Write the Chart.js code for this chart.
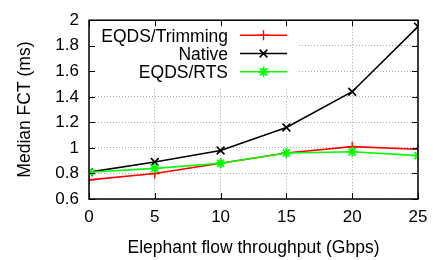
<!DOCTYPE html>
<html><head><meta charset="utf-8">
<script src="https://cdn.jsdelivr.net/npm/chart.js@4/dist/chart.umd.min.js"></script>
<style>html,body{margin:0;padding:0;background:#fff}#wrap{width:440px;height:260px}</style>
</head><body><div id="wrap"><canvas id="c" width="440" height="260"></canvas></div>
<script>
const xValues = [0, 5, 10, 15, 20, 25];
const trimming = [0.75, 0.80, 0.88, 0.96, 1.01, 0.99];
const native = [0.81, 0.89, 0.98, 1.16, 1.44, 1.95];
const rts = [0.81, 0.84, 0.88, 0.96, 0.97, 0.94];
const seriesNames = ['EQDS/Trimming', 'Native', 'EQDS/RTS'];
const xTickValues = [0, 5, 10, 15, 20, 25];
const yTickValues = [0.6, 0.8, 1.0, 1.2, 1.4, 1.6, 1.8, 2.0];
const yTickLabels = ['0.6', '0.8', '1', '1.2', '1.4', '1.6', '1.8', '2'];
const xTitle = 'Elephant flow throughput (Gbps)';
const yTitle = 'Median FCT (ms)';

const FONT = 'Liberation Sans, Arial, Helvetica, sans-serif';
const toPts = v => xValues.map((x, i) => ({x: x, y: v[i]}));

const frame = {
  id: 'frame',
  beforeDatasetsDraw(chart) {
    const {ctx, chartArea: a} = chart;
    ctx.save();
    ctx.fillStyle = '#fff';
    ctx.fillRect(a.left + 1, a.top + 1, 208, 66);
    ctx.restore();
  },
  afterDatasetsDraw(chart) {
    const {ctx, chartArea: a, scales} = chart;
    ctx.save();
    ctx.strokeStyle = '#000';
    ctx.lineWidth = 1.5;
    ctx.strokeRect(a.left, a.top, a.right - a.left, a.bottom - a.top);
    ctx.lineWidth = 1;
    const L = 6;
    ctx.beginPath();
    xTickValues.forEach(v => {
      const px = Math.round(scales.x.getPixelForValue(v)) + 0.5;
      ctx.moveTo(px, a.bottom); ctx.lineTo(px, a.bottom - L);
      ctx.moveTo(px, a.top); ctx.lineTo(px, a.top + L);
    });
    yTickValues.forEach(v => {
      const py = Math.round(scales.y.getPixelForValue(v)) + 0.5;
      ctx.moveTo(a.left, py); ctx.lineTo(a.left + L, py);
      ctx.moveTo(a.right, py); ctx.lineTo(a.right - L, py);
    });
    ctx.stroke();
    // legend
    ctx.font = '17.5px ' + FONT;
    ctx.textAlign = 'right';
    ctx.textBaseline = 'middle';
    chart.data.datasets.forEach((ds, i) => {
      const y = a.top + 15 + i * 18.3;
      const tx = a.left + 139;
      ctx.fillStyle = '#000';
      ctx.fillText(ds.label, tx, y + 1.5);
      const x0 = a.left + 151, x1 = a.left + 198, xm = (x0 + x1) / 2;
      ctx.strokeStyle = ds.borderColor;
      ctx.lineWidth = ds.borderWidth;
      ctx.beginPath(); ctx.moveTo(x0, y); ctx.lineTo(x1, y); ctx.stroke();
      const r = ds.pointRadius;
      ctx.lineWidth = ds.pointBorderWidth;
      ctx.beginPath();
      if (ds.pointStyle === 'cross' || ds.pointStyle === 'star') {
        ctx.moveTo(xm - r, y); ctx.lineTo(xm + r, y);
        ctx.moveTo(xm, y - r); ctx.lineTo(xm, y + r);
      }
      if (ds.pointStyle === 'crossRot' || ds.pointStyle === 'star') {
        const d = r * 0.7071;
        ctx.moveTo(xm - d, y - d); ctx.lineTo(xm + d, y + d);
        ctx.moveTo(xm - d, y + d); ctx.lineTo(xm + d, y - d);
      }
      ctx.stroke();
    });
    ctx.restore();
  }
};

const ds = (label, data, color, style, r, bw, order) => ({
  label, data: toPts(data), borderColor: color, backgroundColor: color,
  pointStyle: style, pointRadius: r, pointBorderWidth: bw, pointBorderColor: color,
  borderWidth: 1.6, tension: 0, fill: false, order
});

new Chart(document.getElementById('c'), {
  type: 'line',
  data: {
    datasets: [
      ds(seriesNames[0], trimming, '#ff0000', 'cross', 5, 1.4, 2),
      ds(seriesNames[1], native, '#000000', 'crossRot', 5.5, 1.6, 1),
      ds(seriesNames[2], rts, '#00ff00', 'star', 5, 1.8, 0)
    ]
  },
  plugins: [frame],
  options: {
    responsive: false,
    animation: false,
    events: [],
    layout: {padding: {top: 11, right: 22, bottom: 0, left: 0}},
    plugins: {legend: {display: false}, tooltip: {enabled: false}},
    scales: {
      x: {
        type: 'linear', min: 0, max: 25,
        afterBuildTicks: s => { s.ticks = xTickValues.map(v => ({value: v})); },
        afterFit: s => { s.height = 61; },
        ticks: {color: '#000', font: {family: FONT, size: 17}, padding: 8,
                callback: v => String(v)},
        grid: {color: '#aaaaaa', lineWidth: 1, tickLength: 0, drawTicks: false},
        border: {display: false, dash: [1, 2]},
        title: {display: true, text: xTitle, color: '#000',
                font: {family: FONT, size: 17.5}, padding: {top: 0, bottom: 1}}
      },
      y: {
        type: 'linear', min: 0.6, max: 2.0,
        afterBuildTicks: s => { s.ticks = yTickValues.map(v => ({value: v})); },
        afterFit: s => { s.width = 89; },
        ticks: {color: '#000', font: {family: FONT, size: 17}, padding: 10,
                callback: (v, i) => yTickLabels[i]},
        grid: {color: '#aaaaaa', lineWidth: 1, tickLength: 0, drawTicks: false},
        border: {display: false, dash: [1, 2]},
        title: {display: true, text: yTitle, color: '#000',
                font: {family: FONT, size: 17.5}, padding: {top: 15, bottom: 0}}
      }
    }
  }
});
</script></body></html>
